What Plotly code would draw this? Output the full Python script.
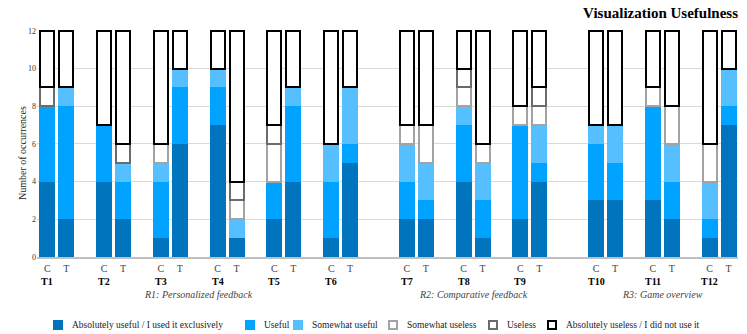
import plotly.graph_objects as go

# Tareas agrupadas por región y condiciones (C / T)
regions = ["R1: Personalized feedback", "R2: Comparative feedback", "R3: Game overview"]
tasks = [["T1", "T2", "T3", "T4", "T5", "T6"], ["T7", "T8", "T9"], ["T10", "T11", "T12"]]
conditions = ["C", "T"]

# Valores por barra: T1C, T1T, T2C, T2T, ... T12C, T12T
abs_useful = [4, 2, 4, 2, 1, 6, 7, 1, 2, 4, 1, 5, 2, 2, 4, 1, 2, 4, 3, 3, 3, 2, 1, 7]
useful = [4, 6, 3, 2, 3, 3, 2, 0, 2, 4, 3, 1, 2, 1, 3, 2, 5, 1, 3, 2, 5, 2, 1, 1]
somewhat_useful = [0, 1, 0, 1, 1, 1, 1, 1, 0, 1, 2, 3, 2, 2, 1, 2, 0, 2, 1, 2, 0, 2, 2, 2]
somewhat_useless = [0, 0, 0, 0, 1, 0, 0, 1, 2, 0, 0, 0, 1, 2, 1, 1, 1, 1, 0, 0, 1, 2, 2, 0]
useless = [1, 0, 0, 1, 0, 0, 0, 1, 1, 0, 0, 0, 0, 0, 1, 0, 0, 1, 0, 0, 0, 0, 0, 0]
abs_useless = [3, 3, 5, 6, 6, 2, 2, 8, 5, 3, 6, 3, 5, 5, 2, 6, 4, 3, 5, 5, 3, 4, 6, 2]

# posiciones en el eje x: C, T, hueco; un hueco extra entre regiones
xpos, xlab, task_pos, region_pos = [], [], [], []
slot = 0
for r, group in enumerate(tasks):
    start = slot
    for t in group:
        task_pos.append((t, slot))
        for c in conditions:
            xpos.append(slot)
            xlab.append(c)
            slot += 1
        slot += 1
    region_pos.append((regions[r], (start + slot - 2) / 2))
    slot += 1

def nz(vals):
    return [v if v else None for v in vals]

filled = [
    ("Absolutely useful / I used it exclusively", abs_useful, "#0074BC"),
    ("Useful", useful, "#00A3FF"),
    ("Somewhat useful", somewhat_useful, "#55BFFF"),
]
outlined = [
    ("Somewhat useless", somewhat_useless, "#A3A3A3"),
    ("Useless", useless, "#6B6B6B"),
    ("Absolutely useless / I did not use it", abs_useless, "#000000"),
]

W, H = 747, 334
L, R, T, B = 37, 9, 30, 77
pw, ph = W - L - R, H - T - B

fig = go.Figure()
for name, vals, col in filled:
    fig.add_trace(go.Bar(x=xpos, y=nz(vals), name=name, width=0.85,
                         marker=dict(color=col, line=dict(width=0))))
for name, vals, col in outlined:
    fig.add_trace(go.Bar(x=xpos, y=nz(vals), name=name, width=0.74,
                         marker=dict(color="white", line=dict(color=col, width=2))))

serif = "Liberation Serif"

for t, x in task_pos:
    fig.add_annotation(x=x, y=0, xref="x", yref="paper", yanchor="middle", yshift=-24,
                       text="<b>%s</b>" % t, showarrow=False,
                       font=dict(family=serif, size=10, color="#000"))
for r, x in region_pos:
    fig.add_annotation(x=x, y=0, xref="x", yref="paper", yanchor="middle", yshift=-37,
                       text="<i>%s</i>" % r, showarrow=False,
                       font=dict(family=serif, size=10, color="#444"))

fig.add_annotation(x=0, y=0.5, xref="paper", yref="paper", xshift=-22, yshift=-10,
                   text="Number of occurrences", textangle=-90, showarrow=False,
                   font=dict(family=serif, size=10, color="#222"))

# leyenda dibujada a mano (posiciones en px de la figura)
leg_x = [53, 245, 293, 388, 488, 547]
leg_y = 325
sq = 10
for i, ((name, _, col), lx) in enumerate(zip(filled + outlined, leg_x)):
    x0 = (lx - L) / pw
    x1 = (lx + sq - L) / pw
    y0 = (H - B - (leg_y + sq / 2)) / ph
    y1 = (H - B - (leg_y - sq / 2)) / ph
    if i < len(filled):
        fig.add_shape(type="rect", xref="paper", yref="paper", x0=x0, x1=x1, y0=y0, y1=y1,
                      fillcolor=col, line=dict(width=0))
    else:
        d = 1 / pw
        e = 1 / ph
        fig.add_shape(type="rect", xref="paper", yref="paper", x0=x0 + d, x1=x1 - d,
                      y0=y0 + e, y1=y1 - e, fillcolor="white", line=dict(color=col, width=2))
    fig.add_annotation(x=(lx + sq + 7 - L) / pw, y=(H - B - leg_y) / ph, xref="paper", yref="paper",
                       xanchor="left", yanchor="middle", text=name, showarrow=False,
                       font=dict(family=serif, size=9.5, color="#222"))

fig.update_layout(
    barmode="stack",
    width=W, height=H,
    margin=dict(l=L, r=R, t=T, b=B, autoexpand=False),
    plot_bgcolor="white", paper_bgcolor="white",
    font=dict(family=serif, size=9, color="#333"),
    title=dict(text="<b>Visualization Usefulness</b>", x=1, xref="paper", xanchor="right",
               y=1 - 13 / H, yanchor="middle", font=dict(family=serif, size=15, color="#000")),
    showlegend=False,
)
fig.update_xaxes(tickmode="array", tickvals=xpos, ticktext=xlab, range=[-0.55, 36.5],
                 showgrid=False, showline=True, linecolor="#BFBFBF", linewidth=1.5,
                 ticks="", ticklabelstandoff=1, tickfont=dict(family=serif, size=10, color="#444"))
fig.update_yaxes(range=[0, 12.05], dtick=2, showgrid=True, gridcolor="#D9D9D9",
                 zeroline=False, showline=False, tickfont=dict(family=serif, size=8, color="#333"))

fig.write_html("out.html", config={"displayModeBar": False},
               post_script="document.body.style.margin='0';document.body.style.overflow='hidden';")
